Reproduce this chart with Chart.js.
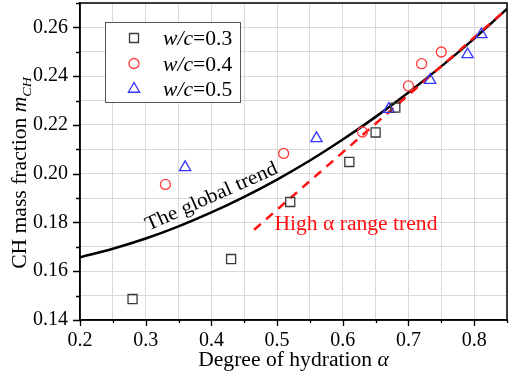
<!DOCTYPE html>
<html>
<head>
<meta charset="utf-8">
<script src="https://cdn.jsdelivr.net/npm/chart.js@4.4.1/dist/chart.umd.min.js"></script>
<style>
  html, body { margin: 0; padding: 0; background: #fff; }
</style>
</head>
<body>
<canvas id="chart" width="510" height="379"></canvas>
<script>
const wc03Alpha = [0.28, 0.43, 0.52, 0.61, 0.65, 0.68];
const wc03Mch   = [0.1486, 0.165, 0.1884, 0.2048, 0.2169, 0.2271];
const wc04Alpha = [0.33, 0.51, 0.63, 0.70, 0.72, 0.75];
const wc04Mch   = [0.1956, 0.2083, 0.2171, 0.2360, 0.2451, 0.2499];
const wc05Alpha = [0.36, 0.56, 0.67, 0.733, 0.79, 0.811];
const wc05Mch   = [0.2026, 0.2145, 0.2265, 0.2384, 0.2489, 0.2571];

// trend lines
const globalAlpha = [0.20, 0.25, 0.30, 0.35, 0.40, 0.45, 0.50, 0.55, 0.60, 0.65, 0.70, 0.75, 0.80, 0.85];
const globalMch   = [0.1657, 0.1692, 0.1734, 0.1784, 0.1841, 0.1905, 0.1976, 0.2054, 0.2140, 0.2233, 0.2333, 0.2440, 0.2554, 0.2676];
const highAlpha = [0.465, 0.85];
const highMch   = [0.177, 0.2676];

const legendLabels = ['0.3', '0.4', '0.5'];

const FONT = "'Liberation Serif', 'Times New Roman', serif";
const GRAY = '#3a3a3a', RED = '#ff3b3b', BLUE = '#3434ff';
const STRETCH = 1.08; // the original lettering is a little wider than Liberation Serif

const pts = (xs, ys) => xs.map((x, i) => ({ x: x, y: ys[i] }));

function marker(ctx, kind, x, y) {
  ctx.save();
  ctx.lineWidth = 1.3;
  ctx.beginPath();
  if (kind === 0) {
    ctx.strokeStyle = GRAY;
    ctx.rect(x - 4.5, y - 4.5, 9, 9);
  } else if (kind === 1) {
    ctx.strokeStyle = RED;
    ctx.arc(x, y, 5, 0, Math.PI * 2);
  } else {
    ctx.strokeStyle = BLUE;
    const r = 6.5;
    ctx.moveTo(x, y - r);
    ctx.lineTo(x + r * 0.866, y + r / 2);
    ctx.lineTo(x - r * 0.866, y + r / 2);
    ctx.closePath();
  }
  ctx.stroke();
  ctx.restore();
}

// draws a run of [text, font, dy] pieces starting at (0,0), stretched a bit
function runs(ctx, parts, align) {
  let total = 0;
  parts.forEach(p => { ctx.font = p[1]; total += ctx.measureText(p[0]).width; });
  ctx.save();
  ctx.scale(STRETCH, 1);
  let x = align === 'center' ? -total / 2 : 0;
  ctx.textAlign = 'left';
  parts.forEach(p => {
    ctx.font = p[1];
    ctx.fillText(p[0], x, p[2] || 0);
    x += ctx.measureText(p[0]).width;
  });
  ctx.restore();
}

const decorations = {
  id: 'decorations',
  afterDraw(chart) {
    const ctx = chart.ctx;
    const a = chart.chartArea;
    const xs = chart.scales.x, ys = chart.scales.y;
    ctx.save();

    // frame
    ctx.strokeStyle = '#000';
    ctx.lineWidth = 1.5;
    ctx.strokeRect(a.left, a.top, a.right - a.left, a.bottom - a.top);

    // tick marks, long for labelled ones
    ctx.lineWidth = 1.3;
    ctx.beginPath();
    ys.ticks.forEach(t => {
      const p = Math.round(ys.getPixelForValue(t.value)) + 0.5;
      const major = Math.round(t.value * 100) % 2 === 0;
      ctx.moveTo(a.left, p);
      ctx.lineTo(a.left - (major ? 7 : 4), p);
    });
    xs.ticks.forEach(t => {
      const p = Math.round(xs.getPixelForValue(t.value)) + 0.5;
      const major = Math.round(t.value * 100) % 10 === 0;
      ctx.moveTo(p, a.bottom);
      ctx.lineTo(p, a.bottom + (major ? 6 : 3));
    });
    ctx.stroke();

    ctx.textBaseline = 'alphabetic';

    // legend
    const lx = 105, ly = 22;
    ctx.fillStyle = '#fff';
    ctx.fillRect(lx, ly, 135, 80);
    ctx.strokeStyle = '#555';
    ctx.lineWidth = 1;
    ctx.strokeRect(lx + 0.5, ly + 0.5, 135, 80);
    legendLabels.forEach((lab, i) => {
      const cy = ly + 16 + i * 25.5;
      marker(ctx, i, lx + 29, cy);
      ctx.fillStyle = '#000';
      ctx.save();
      ctx.translate(lx + 58, cy + 7);
      runs(ctx, [['w/c', 'italic 20px ' + FONT], ['=' + lab, '20px ' + FONT]], 'left');
      ctx.restore();
    });

    // trend annotations
    ctx.save();
    ctx.translate(xs.getPixelForValue(0.4036), ys.getPixelForValue(0.1885));
    ctx.rotate(-24 * Math.PI / 180);
    ctx.fillStyle = '#000';
    runs(ctx, [['The global trend', '20px ' + FONT]], 'center');
    ctx.restore();

    ctx.save();
    ctx.translate(xs.getPixelForValue(0.4959), ys.getPixelForValue(0.1769));
    ctx.fillStyle = '#ff1010';
    runs(ctx, [['High \u03b1 range trend', '20px ' + FONT]], 'left');
    ctx.restore();

    // x title
    ctx.save();
    ctx.translate((a.left + a.right) / 2, 366);
    ctx.fillStyle = '#000';
    runs(ctx, [['Degree of hydration ', '20px ' + FONT], ['\u03b1', 'italic 20px ' + FONT]], 'center');
    ctx.restore();

    // y title
    ctx.save();
    ctx.translate(26, 173);
    ctx.rotate(-Math.PI / 2);
    ctx.fillStyle = '#000';
    runs(ctx, [['CH mass fraction ', '20px ' + FONT], ['m', 'italic 20px ' + FONT], ['CH', 'italic 13px ' + FONT, 5]], 'center');
    ctx.restore();

    ctx.restore();
  }
};

new Chart(document.getElementById('chart'), {
  type: 'scatter',
  data: {
    datasets: [
      { data: pts(wc03Alpha, wc03Mch), pointStyle: 'rect', pointRadius: 6.4, borderColor: GRAY, backgroundColor: 'rgba(0,0,0,0)', borderWidth: 1.3 },
      { data: pts(wc04Alpha, wc04Mch), pointStyle: 'circle', pointRadius: 5, borderColor: RED, backgroundColor: 'rgba(0,0,0,0)', borderWidth: 1.3 },
      { data: pts(wc05Alpha, wc05Mch), pointStyle: 'triangle', pointRadius: 6.5, borderColor: BLUE, backgroundColor: 'rgba(0,0,0,0)', borderWidth: 1.3 },
      { data: pts(highAlpha, highMch), showLine: true, pointRadius: 0, borderColor: '#ff1010', borderWidth: 2.5, borderDash: [9, 7] },
      { data: pts(globalAlpha, globalMch), showLine: true, pointRadius: 0, borderColor: '#000', borderWidth: 2.5, cubicInterpolationMode: 'monotone' }
    ]
  },
  options: {
    responsive: false,
    animation: false,
    devicePixelRatio: 1,
    layout: { autoPadding: false, padding: { top: 3, right: 3, left: 0, bottom: 0 } },
    plugins: { legend: { display: false }, tooltip: { enabled: false } },
    scales: {
      x: {
        type: 'linear', min: 0.2, max: 0.85,
        afterFit: s => { s.height = 59; s.paddingLeft = 0; s.paddingRight = 0; },
        grid: { color: '#d9d9d9', lineWidth: 1, drawTicks: false },
        border: { color: '#000', width: 1.5 },
        ticks: {
          stepSize: 0.05, autoSkip: false, maxRotation: 0, padding: 9, color: '#000',
          font: { family: FONT, size: 20 },
          callback: v => Math.round(v * 100) % 10 === 0 ? (Math.round(v * 10) / 10).toFixed(1) : ''
        }
      },
      y: {
        type: 'linear', min: 0.14, max: 0.27,
        afterFit: s => { s.width = 80; s.paddingTop = 0; s.paddingBottom = 0; },
        grid: { color: '#d9d9d9', lineWidth: 1, drawTicks: false },
        border: { color: '#000', width: 1.5 },
        ticks: {
          stepSize: 0.01, autoSkip: false, padding: 12, color: '#000',
          font: { family: FONT, size: 20 },
          callback: v => Math.round(v * 100) % 2 === 0 ? (Math.round(v * 100) / 100).toFixed(2) : ''
        }
      }
    }
  },
  plugins: [decorations]
});
</script>
</body>
</html>
